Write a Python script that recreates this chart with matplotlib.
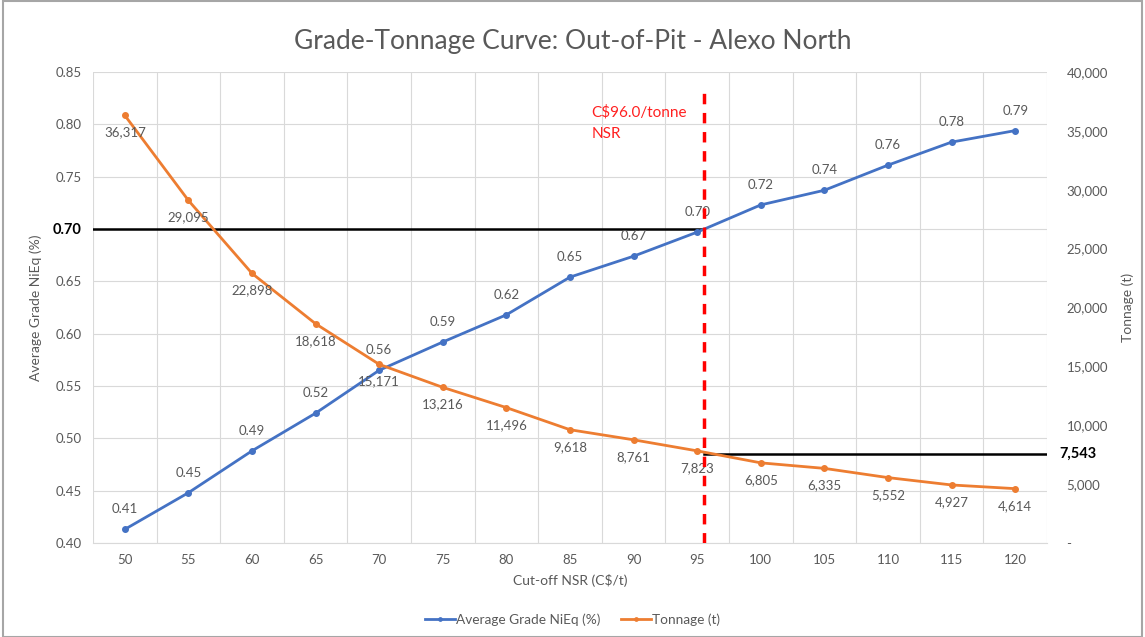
import matplotlib.pyplot as plt
from matplotlib.patches import Rectangle
from matplotlib.ticker import FuncFormatter

plt.rcParams["font.family"] = ["Lato", "DejaVu Sans"]

cutoff = [50, 55, 60, 65, 70, 75, 80, 85, 90, 95, 100, 105, 110, 115, 120]
grade = [0.413, 0.448, 0.488, 0.524, 0.565, 0.592, 0.618, 0.654, 0.674, 0.697,
         0.723, 0.737, 0.761, 0.783, 0.794]
tonnage = [36317, 29095, 22898, 18618, 15171, 13216, 11496, 9618, 8761, 7823,
           6805, 6335, 5552, 4927, 4614]
# where the cut-off marker sits on the category axis in the picture
nsr_line_x = 95.55
grade_at_cutoff = 0.70
tonnage_at_cutoff = 7543

BLUE = "#4472C4"
ORANGE = "#ED7D31"
GRAY = "#595959"

fig = plt.figure(figsize=(11.45, 6.37), dpi=100)
ax = fig.add_axes([0.0812, 0.1476, 0.8332, 0.7394])
ax2 = ax.twinx()

# left axis: grade
ax.plot(cutoff, grade, color=BLUE, lw=2, marker="o", ms=4, zorder=3,
        label="Average Grade NiEq (%)")
for x, g in zip(cutoff, grade):
    ax.annotate(f"{g:.2f}", (x, g), xytext=(0, 10), textcoords="offset points",
                ha="center", va="bottom", fontsize=9.5, color=GRAY)

ax.plot([47.5, nsr_line_x], [grade_at_cutoff, grade_at_cutoff],
        color="black", lw=1.8, zorder=2)

ax.set_xlim(47.5, 122.5)
ax.set_ylim(0.40, 0.85)
ax.set_xticks(cutoff)
ax.set_xticks([47.5 + 5 * i for i in range(16)], minor=True)
ax.set_yticks([0.40 + 0.05 * i for i in range(10)])
ax.yaxis.set_major_formatter(FuncFormatter(lambda v, p: f"{v:.2f}"))
ax.grid(which="minor", axis="x", color="#d9d9d9", lw=0.8)
ax.grid(which="major", axis="y", color="#d9d9d9", lw=0.8)
ax.set_axisbelow(True)
ax.tick_params(which="both", length=0, colors=GRAY, labelsize=9.5, pad=8)
for lbl in ax.get_yticklabels():
    if lbl.get_text() == "0.70":
        lbl.set_fontweight("bold")
        lbl.set_color("black")
        lbl.set_fontsize(10.5)
for s in ax.spines.values():
    s.set_visible(False)
ax.spines["bottom"].set_visible(True)
ax.spines["bottom"].set_color("#d9d9d9")
ax.set_xlabel("Cut-off NSR (C$/t)", color=GRAY, fontsize=10, labelpad=6)
ax.set_ylabel("Average Grade NiEq (%)", color=GRAY, fontsize=10, labelpad=8)

# right axis: tonnage
ax2.plot(cutoff, tonnage, color=ORANGE, lw=2, marker="o", ms=4, zorder=3,
         label="Tonnage (t)")
for x, t in zip(cutoff, tonnage):
    ax2.annotate(f"{t:,}", (x, t), xytext=(0, -8), textcoords="offset points",
                 ha="center", va="top", fontsize=9.5, color=GRAY)

ax2.plot([nsr_line_x, 122.5], [tonnage_at_cutoff, tonnage_at_cutoff],
         color="black", lw=1.8, zorder=2)
ax2.annotate(f"{tonnage_at_cutoff:,}", (122.5, tonnage_at_cutoff),
             xytext=(9, 0), textcoords="offset points", ha="left",
             va="center", fontsize=10.5, fontweight="bold", color="black",
             annotation_clip=False)

ax2.plot([nsr_line_x, nsr_line_x], [0, 38900], color="red", lw=2.5,
         dashes=(3, 2.5), zorder=5)
ax2.text(86.7, 35700, "C$96.0/tonne\nNSR", color="#ff2020", fontsize=11,
         ha="left", va="center", linespacing=1.7)

ax2.set_ylim(0, 40000)
ax2.set_yticks(range(0, 40001, 5000))
ax2.yaxis.set_major_formatter(
    FuncFormatter(lambda v, p: "-" if v == 0 else f"{int(v):,}"))
ax2.tick_params(length=0, colors=GRAY, labelsize=9.5, pad=14)
for s in ax2.spines.values():
    s.set_visible(False)
ax2.set_ylabel("Tonnage (t)", color=GRAY, fontsize=10, labelpad=10)

fig.suptitle("Grade-Tonnage Curve: Out-of-Pit - Alexo North", color=GRAY,
             fontsize=19, y=0.955)

h1, l1 = ax.get_legend_handles_labels()
h2, l2 = ax2.get_legend_handles_labels()
fig.legend(h1 + h2, l1 + l2, loc="center", bbox_to_anchor=(0.5, 0.027),
           ncol=2, frameon=False, fontsize=9.8, labelcolor=GRAY,
           handlelength=2.2, handletextpad=0.1, columnspacing=1.5,
           markerscale=0.6)

fig.patches.append(Rectangle((0.003, 0.0), 0.994, 0.998,
                             transform=fig.transFigure, fill=False,
                             edgecolor="#a6a6a6", lw=1.5))

fig.savefig("out.png", dpi=100)
